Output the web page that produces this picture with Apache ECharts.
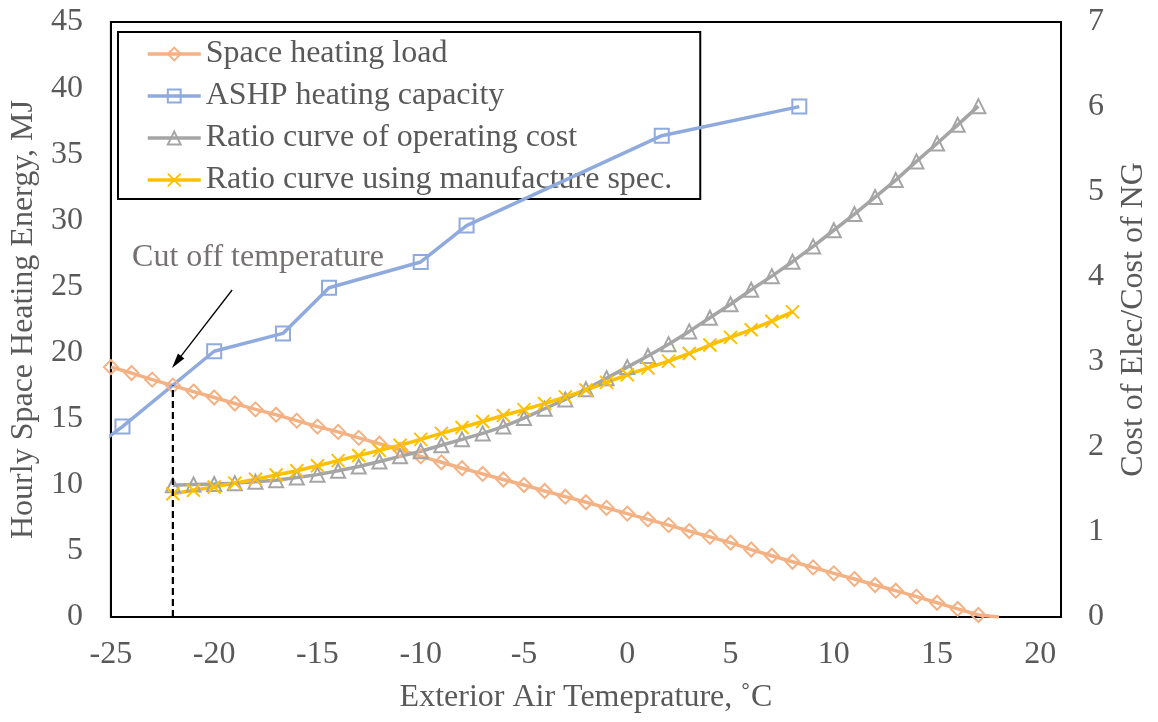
<!DOCTYPE html>
<html>
<head>
<meta charset="utf-8">
<script src="https://cdn.jsdelivr.net/npm/echarts@6/dist/echarts.min.js"></script>
<style>html,body{margin:0;padding:0;background:#fff}#c{width:1158px;height:722px}</style>
</head>
<body>
<div id="c"></div>
<script>
// ---- Data ----
const loadX = [-25,-24,-23,-22,-21,-20,-19,-18,-17,-16,-15,-14,-13,-12,-11,-10,-9,-8,-7,-6,-5,-4,-3,-2,-1,0,1,2,3,4,5,6,7,8,9,10,11,12,13,14,15,16,17];
const loadY = [18.9,18.45,17.95,17.5,17.05,16.6,16.15,15.7,15.3,14.85,14.4,14.0,13.55,13.1,12.65,12.15,11.7,11.25,10.82,10.4,9.98,9.53,9.1,8.68,8.25,7.82,7.38,6.95,6.5,6.06,5.62,5.1,4.63,4.18,3.75,3.3,2.87,2.42,1.99,1.54,1.08,0.61,0.15];
const loadTailX = 18, loadTailY = 0;   // line end without marker

const ashpX = [-26.11,-24.44,-20,-16.67,-14.44,-10,-7.78,1.67,8.33];
const ashpY = [12.45,14.4,20.1,21.45,24.9,26.85,29.6,36.4,38.6];

const ratioX = [-22,-21,-20,-19,-18,-17,-16,-15,-14,-13,-12,-11,-10,-9,-8,-7,-6,-5,-4,-3,-2,-1,0,1,2,3,4,5,6,7,8,9,10,11,12,13,14,15,16,17];
const ratioY = [1.55,1.56,1.565,1.575,1.59,1.61,1.64,1.675,1.72,1.77,1.83,1.89,1.95,2.02,2.09,2.16,2.24,2.34,2.45,2.56,2.68,2.81,2.94,3.07,3.21,3.36,3.52,3.68,3.85,4.01,4.18,4.36,4.55,4.74,4.94,5.14,5.36,5.57,5.79,6.01];

const specX = [-22,-21,-20,-19,-18,-17,-16,-15,-14,-13,-12,-11,-10,-9,-8,-7,-6,-5,-4,-3,-2,-1,0,1,2,3,4,5,6,7,8];
const specY = [1.45,1.49,1.53,1.575,1.62,1.67,1.72,1.78,1.84,1.90,1.96,2.02,2.09,2.16,2.23,2.30,2.37,2.44,2.51,2.59,2.67,2.76,2.85,2.93,3.01,3.10,3.20,3.29,3.38,3.48,3.59];

const cutoffX = -22, cutoffTop = 17.5;
const annotText = 'Cut off temperature';
const annotAt = [-17.88, 27.16];
const arrowFrom = [-19.13, 24.73];
const arrowTo = [-21.82, 19.29];

const names = ['Space heating load','ASHP heating capacity','Ratio curve of operating cost','Ratio curve using manufacture spec.'];
const xName = 'Exterior Air Temeprature, ˚C';
const yLeftName = 'Hourly Space Heating Energy, MJ';
const yRightName = 'Cost of Elec/Cost of NG';

// ---- Styles ----
const FONT = '"Liberation Serif", "Times New Roman", serif';
const TXT = '#595959';
const FS = 32;
const LW = 3.5;
const C_LOAD = '#F4B183', C_ASHP = '#8FAADC', C_RATIO = '#A5A5A5', C_SPEC = '#FFC000';
const zip = (xs, ys) => xs.map((x, i) => [x, ys[i]]);

const loadData = zip(loadX, loadY);
loadData.push({ value: [loadTailX, loadTailY], symbol: 'none' });

const chart = echarts.init(document.getElementById('c'), null, { renderer: 'canvas' });

function lineSeries(name, data, color, symbol, size, yIdx) {
  return {
    name, type: 'line', data, yAxisIndex: yIdx,
    symbol, symbolSize: size, showAllSymbol: true,
    lineStyle: { color, width: LW },
    itemStyle: { color: 'rgba(255,255,255,0)', borderColor: color, borderWidth: 2 },
    emphasis: { disabled: true },
    clip: true, z: 3
  };
}

const yAxisBase = {
  type: 'value', nameLocation: 'middle', nameRotate: 90,
  nameTextStyle: { fontFamily: FONT, fontSize: FS, color: TXT },
  axisLine: { show: true, onZero: false, lineStyle: { color: '#000', width: 2 } },
  axisTick: { show: false }, splitLine: { show: false }
};

const option = {
  animation: false,
  grid: { left: 110, right: 92, top: 22, bottom: 105, show: true, borderColor: '#000', borderWidth: 2 },
  legend: {
    data: names, orient: 'vertical', left: 118, top: 32,
    padding: [6, 28, 3, 28], itemGap: 10, itemWidth: 53, itemHeight: 16,
    borderColor: '#000', borderWidth: 2, backgroundColor: 'transparent', borderRadius: 0,
    lineStyle: { width: LW },
    textStyle: { fontFamily: FONT, fontSize: FS, color: TXT, lineHeight: 31 },
    selectedMode: false, z: 1
  },
  xAxis: {
    type: 'value', min: -25, max: 21, interval: 5,
    name: xName, nameLocation: 'middle', nameGap: 65,
    nameTextStyle: { fontFamily: FONT, fontSize: FS, color: TXT },
    axisLine: { show: true, onZero: false, lineStyle: { color: '#000', width: 2 } },
    axisTick: { show: false }, splitLine: { show: false },
    axisLabel: { margin: 22, showMaxLabel: false, fontFamily: FONT, fontSize: FS, color: TXT }
  },
  yAxis: [
    Object.assign({}, yAxisBase, {
      min: 0, max: 45, interval: 5, position: 'left',
      name: yLeftName, nameGap: 64,
      axisLabel: { margin: 28, fontFamily: FONT, fontSize: FS, color: TXT }
    }),
    Object.assign({}, yAxisBase, {
      min: 0, max: 7, interval: 1, position: 'right',
      name: yRightName, nameGap: 57,
      axisLabel: { margin: 27, fontFamily: FONT, fontSize: FS, color: TXT }
    })
  ],
  series: [
    lineSeries(names[0], loadData, C_LOAD, 'diamond', 14, 0),
    lineSeries(names[1], zip(ashpX, ashpY), C_ASHP, 'rect', 14, 0),
    lineSeries(names[2], zip(ratioX, ratioY), C_RATIO, 'triangle', 14, 1),
    Object.assign(lineSeries(names[3], zip(specX, specY), C_SPEC, 'path://M0,0L10,10M10,0L0,10', 13, 1),
      { itemStyle: { color: C_SPEC, borderColor: C_SPEC, borderWidth: 2 } }),
    {
      name: 'cutoff', type: 'line', yAxisIndex: 0, data: [[cutoffX, 0], [cutoffX, cutoffTop]],
      symbol: 'none', lineStyle: { color: '#000', width: 2.2, type: [7, 4] }, z: 4,
      emphasis: { disabled: true },
      markLine: {
        silent: true, symbol: ['none', 'triangle'], symbolSize: [8, 15],
        lineStyle: { color: '#000', width: 1.3, type: 'solid' },
        label: { show: false }, emphasis: { disabled: true },
        data: [[{ coord: arrowFrom }, { coord: arrowTo }]]
      }
    }
  ]
};
chart.setOption(option);

const p = chart.convertToPixel({ xAxisIndex: 0, yAxisIndex: 0 }, annotAt);
chart.setOption({
  graphic: [{
    type: 'text', x: p[0], y: p[1], silent: true,
    style: { text: annotText, fontFamily: FONT, fontSize: FS, fill: '#767171', align: 'center', verticalAlign: 'middle' }
  }]
});
</script>
</body>
</html>
